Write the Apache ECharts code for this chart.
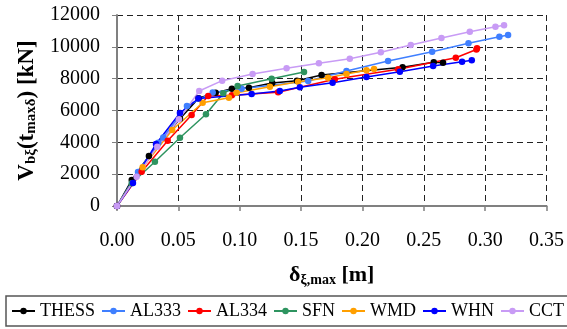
<!DOCTYPE html>
<html>
<head>
<meta charset="utf-8">
<script src="https://cdn.jsdelivr.net/npm/echarts@6/dist/echarts.min.js"></script>
<style>html,body{margin:0;padding:0;background:#fff}#c{width:567px;height:329px}</style>
</head>
<body>
<div id="c"></div>
<script>
var seriesNames = ['THESS','AL333','AL334','SFN','WMD','WHN','CCT'];
var seriesColors = ['#000000','#3f7fff','#ff0000','#2e9460','#ff9f00','#0000ff','#c89bf5'];
var xTicks = [0,0.05,0.10,0.15,0.20,0.25,0.30,0.35];
var yTicks = [0,2000,4000,6000,8000,10000,12000];

var thessX = [0,0.012,0.026,0.0513,0.0665,0.0804,0.0936,0.1075,0.1265,0.1466,0.1667,0.2327,0.2581,0.2657];
var thessY = [0,1630,3140,5485,6767,7119,7370,7433,7730,7873,8231,8715,9029,9004];
var al333X = [0,0.0171,0.0336,0.0377,0.057,0.078,0.1015,0.1558,0.187,0.2209,0.2568,0.2864,0.3116,0.3187];
var al333Y = [0,2136,3977,4304,6283,7131,7370,7854,8482,9110,9695,10223,10637,10744];
var al334X = [0,0.0201,0.0413,0.0608,0.0743,0.0936,0.1313,0.1775,0.2291,0.2761,0.2929,0.2934];
var al334Y = [0,2155,4097,5718,6911,6955,7144,7961,8589,9311,9833,9908];
var sfnX = [0,0.012,0.0309,0.0513,0.0725,0.0866,0.0983,0.126,0.1524];
var sfnY = [0,1426,2783,4291,5761,7081,7540,7998,8413];
var wmdX = [0,0.0209,0.045,0.0698,0.0912,0.0975,0.1246,0.1476,0.172,0.187,0.2033,0.2095];
var wmdY = [0,2432,4775,6490,6804,7119,7496,7810,8061,8294,8526,8608];
var whnX = [0,0.013,0.0318,0.0513,0.0664,0.1097,0.1327,0.149,0.1757,0.2033,0.2305,0.2576,0.2812,0.2891];
var whnY = [0,1445,3895,5843,6754,7037,7225,7458,7747,8105,8438,8796,9060,9154];
var cctX = [0,0.016,0.0328,0.0505,0.067,0.0857,0.1105,0.1382,0.1645,0.1897,0.215,0.2394,0.2644,0.2875,0.3084,0.3154];
var cctY = [0,1841,3726,5447,7225,7873,8294,8652,8966,9255,9657,10116,10556,10951,11265,11353];

var allX = [thessX,al333X,al334X,sfnX,wmdX,whnX,cctX];
var allY = [thessY,al333Y,al334Y,sfnY,wmdY,whnY,cctY];

function zip(xs, ys){ return xs.map(function(x,i){ return [x, ys[i]]; }); }

var FONT = '"Liberation Serif", "Times New Roman", serif';

var series = seriesNames.map(function(n, i){
  return {
    name: n, type: 'line', data: zip(allX[i], allY[i]),
    symbol: 'circle', symbolSize: 6.5, showSymbol: true,
    itemStyle: {color: seriesColors[i]},
    lineStyle: {color: seriesColors[i], width: 1.5},
    animation: false
  };
});

var chart = echarts.init(document.getElementById('c'), null, {renderer: 'canvas'});
chart.setOption({
  backgroundColor: '#fff',
  animation: false,
  grid: {left: 117, right: 20, top: 15, bottom: 123},
  legend: {
    left: 6, top: 296, width: 800,
    padding: [6, 40, 6, 5],
    borderColor: '#555', borderWidth: 1.5,
    itemWidth: 23, itemHeight: 8, itemGap: 6,
    textStyle: {fontFamily: FONT, fontSize: 18, color: '#000'},
    data: seriesNames
  },
  xAxis: {
    type: 'value', min: xTicks[0], max: xTicks[xTicks.length-1], interval: 0.05,
    name: '{b|δ}{s|ξ,max}{b| [m]}', nameLocation: 'middle', nameGap: 58,
    nameTextStyle: {
      fontFamily: FONT,
      rich: {
        b: {fontFamily: FONT, fontSize: 22, fontWeight: 'bold', color: '#000'},
        s: {fontFamily: FONT, fontSize: 14, fontWeight: 'bold', color: '#000', verticalAlign: 'bottom', padding: [9,0,0,0]}
      }
    },
    axisLine: {lineStyle: {color: '#808080', width: 2}},
    axisTick: {show: true, inside: false, length: 5, lineStyle: {color: '#808080', width: 1.5}},
    axisLabel: {fontFamily: FONT, fontSize: 20, color: '#000', margin: 25,
      formatter: function(v){ return v.toFixed(2); }},
    splitLine: {show: true, lineStyle: {color: '#222', type: [6,4], width: 1}}
  },
  yAxis: {
    type: 'value', min: yTicks[0], max: yTicks[yTicks.length-1], interval: 2000,
    name: '{b|V}{s|bξ}{b|(t}{s|maxδ}{b|) [kN]}', nameLocation: 'middle', nameGap: 66, nameRotate: 90,
    nameTextStyle: {
      fontFamily: FONT,
      rich: {
        b: {fontFamily: FONT, fontSize: 23, fontWeight: 'bold', color: '#000'},
        s: {fontFamily: FONT, fontSize: 15, fontWeight: 'bold', color: '#000', verticalAlign: 'bottom', padding: [9,0,0,0]}
      }
    },
    axisLine: {show: true, lineStyle: {color: '#808080', width: 2}},
    axisTick: {show: true, inside: false, length: 5, lineStyle: {color: '#808080', width: 1}},
    axisLabel: {fontFamily: FONT, fontSize: 20, color: '#000', margin: 17,
      formatter: function(v){ return String(v); }},
    splitLine: {show: true, lineStyle: {color: '#222', type: [6,4], width: 1}}
  },
  series: series
});
</script>
</body>
</html>
